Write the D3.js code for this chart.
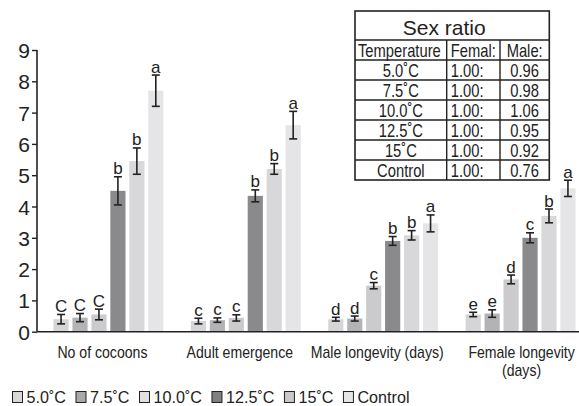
<!DOCTYPE html>
<html>
<head>
<meta charset="utf-8">
<script src="https://cdn.jsdelivr.net/npm/d3@7"></script>
<style>
  html, body { margin: 0; padding: 0; background: #fff; }
  svg { display: block; font-family: "Liberation Sans", Arial, sans-serif; }
</style>
</head>
<body>
<svg id="chart" width="579" height="406"></svg>
<script>
// Treatments (temperatures) and response variables
const series = ["5.0˚C", "7.5˚C", "10.0˚C", "12.5˚C", "15˚C", "Control"];
const groups = ["No of cocoons", "Adult emergence", "Male longevity (days)", "Female longevity (days)"];
const groupLines = [["No of cocoons"], ["Adult emergence"], ["Male longevity (days)"], ["Female longevity", "(days)"]];

// Means, error half-widths and significance letters, one array per response
const cocoonsMean = [0.40, 0.45, 0.55, 4.50, 5.45, 7.70];
const cocoonsErr = [0.15, 0.13, 0.17, 0.45, 0.42, 0.50];
const cocoonsLetters = ["C", "C", "C", "b", "b", "a"];

const emergenceMean = [0.34, 0.37, 0.44, 4.34, 5.20, 6.60];
const emergenceErr = [0.09, 0.07, 0.10, 0.19, 0.17, 0.44];
const emergenceLetters = ["c", "c", "c", "b", "b", "a"];

const maleMean = [0.40, 0.42, 1.47, 2.90, 3.08, 3.46];
const maleErr = [0.06, 0.08, 0.10, 0.14, 0.15, 0.27];
const maleLetters = ["d", "d", "c", "b", "b", "a"];

const femaleMean = [0.55, 0.58, 1.67, 3.00, 3.70, 4.58];
const femaleErr = [0.07, 0.12, 0.14, 0.16, 0.22, 0.26];
const femaleLetters = ["e", "e", "d", "c", "b", "a"];

const yTicks = [0, 1, 2, 3, 4, 5, 6, 7, 8, 9];

// Sex ratio table
const tableTitle = "Sex ratio";
const tableHeader = ["Temperature", "Femal:", "Male:"];
const ratioTemps = ["5.0˚C", "7.5˚C", "10.0˚C", "12.5˚C", "15˚C", "Control"];
const ratioFemale = ["1.00:", "1.00:", "1.00:", "1.00:", "1.00:", "1.00:"];
const ratioMale = ["0.96", "0.98", "1.06", "0.95", "0.92", "0.76"];

const colors = ["#d5d5d7", "#b3b3b5", "#cbcbcd", "#8a8a8c", "#d8d8da", "#e5e5e7"];
const legendColors = ["#d9d9d9", "#a9a9a9", "#e0e0e0", "#808080", "#c8c8c8", "#e6e6e6"];
const ink = "#222";

const groupData = [
  { mean: cocoonsMean, err: cocoonsErr, letters: cocoonsLetters },
  { mean: emergenceMean, err: emergenceErr, letters: emergenceLetters },
  { mean: maleMean, err: maleErr, letters: maleLetters },
  { mean: femaleMean, err: femaleErr, letters: femaleLetters }
];

const rows = [];
groupData.forEach((g, gi) => {
  series.forEach((s, si) => {
    rows.push({ group: groups[gi], series: s, si, value: g.mean[si], err: g.err[si], letter: g.letters[si] });
  });
});

const svg = d3.select("#chart");
const W = 579, H = 406;
const axisX = 37, baseY = 331.7, topY = 50;

const x0 = d3.scaleBand().domain(groups).range([axisX, 592]).paddingInner(0.2).paddingOuter(0.12);
const x1 = d3.scaleBand().domain(series).range([0, x0.bandwidth()]).paddingInner(0.2);
const y = d3.scaleLinear().domain([0, 9]).range([baseY, topY]);
const color = d3.scaleOrdinal().domain(series).range(colors);

// Text with a horizontal squeeze (condensed lettering)
function squeezed(sel, x, yy, txt, size, sx, anchor) {
  return sel.append("text")
    .attr("transform", `translate(${x},${yy}) scale(${sx},1)`)
    .attr("font-size", size)
    .attr("text-anchor", anchor || "start")
    .attr("fill", ink)
    .text(txt);
}

// Bars
const bars = svg.append("g");
bars.selectAll("rect").data(rows).join("rect")
  .attr("x", d => x0(d.group) + x1(d.series))
  .attr("y", d => y(d.value))
  .attr("width", x1.bandwidth())
  .attr("height", d => y(0) - y(d.value))
  .attr("fill", d => color(d.series));

// Error bars
const eb = svg.append("g").attr("stroke", ink).attr("stroke-width", 1.6);
rows.forEach(d => {
  const cx = x0(d.group) + x1(d.series) + x1.bandwidth() / 2;
  const yt = y(d.value + d.err), yb = y(d.value - d.err);
  eb.append("line").attr("x1", cx).attr("x2", cx).attr("y1", yt).attr("y2", yb);
  eb.append("line").attr("x1", cx - 4).attr("x2", cx + 4).attr("y1", yt).attr("y2", yt);
  eb.append("line").attr("x1", cx - 4).attr("x2", cx + 4).attr("y1", yb).attr("y2", yb);
});

// Significance letters
svg.append("g").selectAll("text").data(rows).join("text")
  .attr("x", d => x0(d.group) + x1(d.series) + x1.bandwidth() / 2)
  .attr("y", d => y(d.value + d.err) - 2.5)
  .attr("text-anchor", "middle")
  .attr("font-size", 17)
  .attr("fill", ink)
  .text(d => d.letter);

// Y axis
const yAxis = svg.append("g").attr("transform", `translate(${axisX},0)`)
  .call(d3.axisLeft(y).tickValues(yTicks).tickFormat(d3.format("d")).tickSize(5).tickPadding(2));
yAxis.select(".domain").attr("stroke", ink).attr("stroke-width", 1.6).attr("d", `M0,${topY}V${baseY}`);
yAxis.selectAll(".tick line").attr("stroke", ink).attr("stroke-width", 1.4);
yAxis.selectAll(".tick text").attr("font-size", 21).attr("fill", ink).attr("font-family", "Liberation Sans, Arial, sans-serif").attr("dy", "0.36em");

// X baseline
svg.append("line").attr("x1", axisX).attr("x2", W).attr("y1", baseY).attr("y2", baseY)
  .attr("stroke", ink).attr("stroke-width", 1.6);

// Group labels (the last, two-line label sits on its band centre)
groups.forEach((g, gi) => {
  const shift = gi === groups.length - 1 ? 1 : -6;
  const cx = x0(g) + x0.bandwidth() / 2 + shift;
  groupLines[gi].forEach((line, li) => {
    squeezed(svg, cx, 358 + li * 18, line, 16, 0.88, "middle");
  });
});

// Legend
const leg = svg.append("g");
let lx = 12.5;
series.forEach((s, i) => {
  leg.append("rect").attr("x", lx).attr("y", 391.5).attr("width", 10).attr("height", 11)
    .attr("fill", legendColors[i]).attr("stroke", ink).attr("stroke-width", 1);
  const t = squeezed(leg, lx + 14, 403, s, 17, 0.95, "start");
  lx += 14 + t.node().getComputedTextLength() * 0.95 + 10;
});

// Sex ratio table
const tb = { x: 355, y: 11, w: 194.3, titleH: 29, rowH: 20 };
const colX = [355, 446.7, 500, 549.3];
const tableRows = [tableHeader].concat(ratioTemps.map((t, i) => [t, ratioFemale[i], ratioMale[i]]));
const tH = tb.titleH + tb.rowH * tableRows.length;
const tg = svg.append("g");
tg.append("rect").attr("x", tb.x).attr("y", tb.y).attr("width", tb.w).attr("height", tH)
  .attr("fill", "#fff").attr("stroke", ink).attr("stroke-width", 1.6);
tg.append("text").attr("x", tb.x + tb.w / 2 - 8).attr("y", tb.y + 24)
  .attr("text-anchor", "middle").attr("font-size", 21).attr("fill", ink).text(tableTitle);
tableRows.forEach((r, ri) => {
  const ry = tb.y + tb.titleH + ri * tb.rowH;
  tg.append("line").attr("x1", tb.x).attr("x2", tb.x + tb.w).attr("y1", ry).attr("y2", ry)
    .attr("stroke", ink).attr("stroke-width", 1.4);
  r.forEach((cell, ci) => {
    const left = colX[ci], right = colX[ci + 1];
    if (ci === 1) squeezed(tg, left + 4, ry + 16.5, cell, 18, 0.82, "start");
    else if (ri === 0 && ci === 0) squeezed(tg, left + 3, ry + 16.5, cell, 18, 0.82, "start");
    else squeezed(tg, (left + right) / 2, ry + 16.5, cell, 18, 0.82, "middle");
  });
});
[colX[1], colX[2]].forEach(cx => {
  tg.append("line").attr("x1", cx).attr("x2", cx).attr("y1", tb.y + tb.titleH).attr("y2", tb.y + tH)
    .attr("stroke", ink).attr("stroke-width", 1.4);
});
</script>
</body>
</html>
